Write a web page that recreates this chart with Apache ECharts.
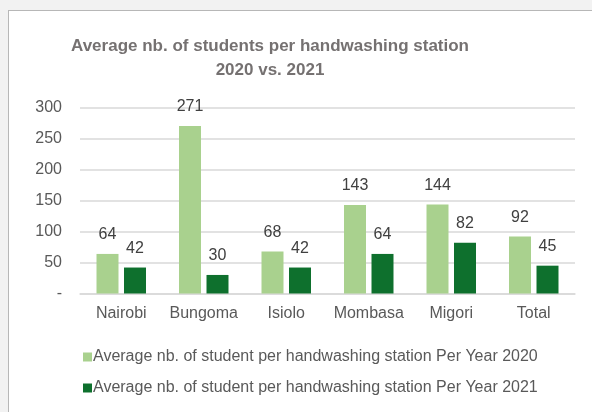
<!DOCTYPE html>
<html><head><meta charset="utf-8">
<script src="https://cdn.jsdelivr.net/npm/echarts@6/dist/echarts.min.js"></script>
<style>
html,body{margin:0;padding:0;background:#f2f2f2;width:592px;height:412px;overflow:hidden;}
#frame{position:absolute;left:8px;top:10px;width:600px;height:420px;background:#fff;border:1px solid #b7b7b7;}
#c{position:absolute;left:0;top:0;width:592px;height:412px;}
</style></head>
<body>
<div id="frame"></div>
<div id="c"></div>
<script>
const categories = ['Nairobi','Bungoma','Isiolo','Mombasa','Migori','Total'];
const values2020 = [64, 271, 68, 143, 144, 92];
const values2021 = [42, 30, 42, 64, 82, 45];
const seriesNames = ['Average nb. of student per handwashing station Per Year 2020','Average nb. of student per handwashing station Per Year 2021'];
const titleLines = ['Average nb. of students per handwashing station','2020 vs. 2021'];

const chart = echarts.init(document.getElementById('c'), null, {renderer:'canvas'});
const FF = 'Liberation Sans, Arial';
const labelStyle = {show:true, position:'top', distance:11, color:'#404040', fontSize:16, fontFamily:FF};
chart.setOption({
  backgroundColor:'transparent',
  animation:false,
  title:{text:titleLines.join('\n'), left:265, top:29, textAlign:'center', textStyle:{color:'#757171', fontSize:17, fontWeight:'bold', fontFamily:FF, lineHeight:24}},
  grid:{left:80, right:17, top:108, bottom:118.5},
  legend:{orient:'vertical', left:78, top:344, itemWidth:9, itemHeight:9, itemGap:15, icon:'rect',
    textStyle:{color:'#595959', fontSize:16, fontFamily:FF, padding:[0,0,0,-4]}},
  xAxis:{type:'category', data:categories, axisLine:{lineStyle:{color:'#d9d9d9', width:1.5}}, axisTick:{show:false},
    axisLabel:{color:'#595959', fontSize:16, fontFamily:FF, margin:12, interval:0}},
  yAxis:{type:'value', min:0, max:300, interval:50, axisLine:{show:false}, axisTick:{show:false},
    splitLine:{lineStyle:{color:'#d9d9d9', width:1.5}},
    axisLabel:{color:'#595959', fontSize:16, fontFamily:FF, margin:18, formatter:v=> v===0?'-':String(v)}},
  series:[
    {name:seriesNames[0], type:'bar', data:values2020, itemStyle:{color:'#a9d18e'}, barGap:'25%', barCategoryGap:'40%', label:labelStyle},
    {name:seriesNames[1], type:'bar', data:values2021, itemStyle:{color:'#0e702d'}, label:labelStyle}
  ]
});
</script>
</body></html>
